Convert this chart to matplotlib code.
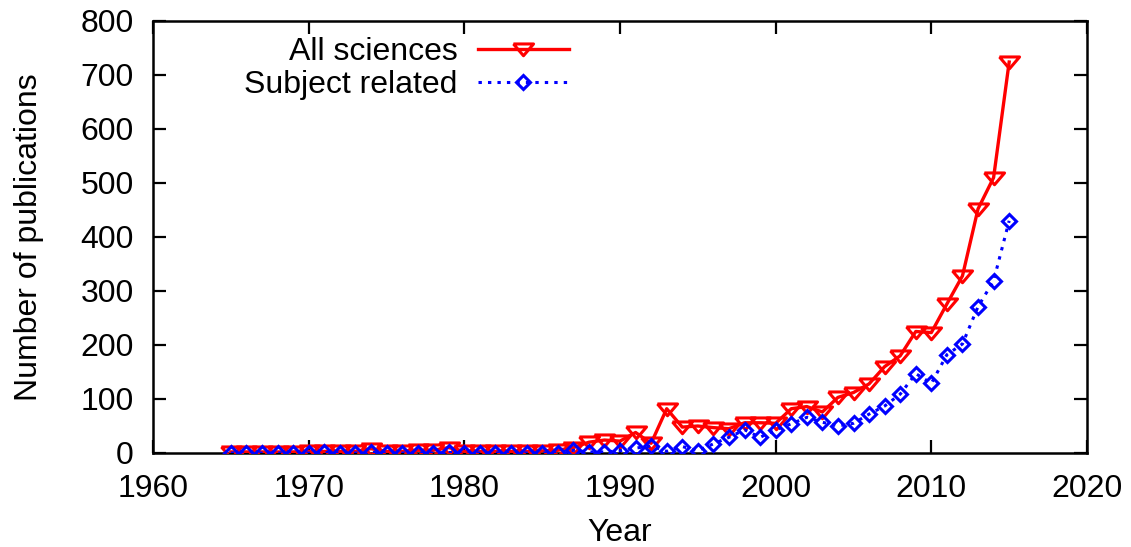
import numpy as np
import matplotlib
matplotlib.use("Agg")
import matplotlib.pyplot as plt

plt.rcParams['font.family'] = ['Liberation Sans', 'DejaVu Sans']

years = list(range(1965, 2016))

all_sciences = [2, 2, 2, 2, 2, 3, 3, 3, 3, 8, 3, 3, 5, 5, 10, 3, 3, 3, 3, 3,
                4, 5, 10, 20, 24, 22, 38, 18, 82, 48, 50, 47, 45, 56, 56, 55,
                82, 86, 76, 103, 112, 128, 160, 180, 225, 223, 276, 328, 452,
                510, 724]

subject_related = [0, 0, 0, 0, 0, 0, 1, 0, 0, 1, 0, 0, 0, 0, 1, 0, 0, 0, 0, 0,
                   0, 0, 5, 2, 2, 4, 9, 13, 3, 12, 4, 17, 29, 43, 29, 43,
                   54, 66, 57, 50, 55, 72, 87, 109, 147, 129, 182, 202, 271,
                   319, 430]

x_ticks = [1960, 1970, 1980, 1990, 2000, 2010, 2020]
y_ticks = [0, 100, 200, 300, 400, 500, 600, 700, 800]

# wide, flat downward triangle
tri_down = [(-1.0, 0.55), (1.0, 0.55), (0.0, -0.62), (-1.0, 0.55)]

FS = 23

fig = plt.figure(figsize=(11.31, 5.47), dpi=100)
ax = fig.add_axes([153 / 1131, 1 - 453 / 547, 934 / 1131, 432 / 547])

ax.plot(years, all_sciences, color='#ff0000', lw=2.4, linestyle='-',
        marker=tri_down, ms=14.5, mfc='none', mec='#ff0000', mew=2.2,
        label='All sciences', zorder=3)
ax.plot(years, subject_related, color='#0000ff', lw=2.2,
        linestyle=(0, (1.1, 2.0)),
        marker='D', ms=7.2, mfc='none', mec='#0000ff', mew=2.2,
        label='Subject related', zorder=4)

ax.set_xlim(1960, 2020)
ax.set_ylim(0, 800)
ax.set_xticks(x_ticks)
ax.set_yticks(y_ticks)

for s in ax.spines.values():
    s.set_linewidth(1.8)
    s.set_color('black')

ax.tick_params(axis='both', which='major', direction='in', length=9.5,
               width=1.6, top=True, right=True, labelsize=FS)
ax.tick_params(axis='x', pad=15)
ax.tick_params(axis='y', pad=14)

ax.set_xlabel('Year', fontsize=FS, labelpad=10)
ax.set_ylabel('Number of publications', fontsize=FS, labelpad=26)

leg = ax.legend(loc='upper right', bbox_to_anchor=(0.445, 0.962),
                frameon=False, markerfirst=False, fontsize=FS,
                handlelength=2.85, handletextpad=0.63, labelspacing=0.09,
                borderpad=0.0, borderaxespad=0.0, numpoints=1)

fig.savefig('out.png', dpi=100)
